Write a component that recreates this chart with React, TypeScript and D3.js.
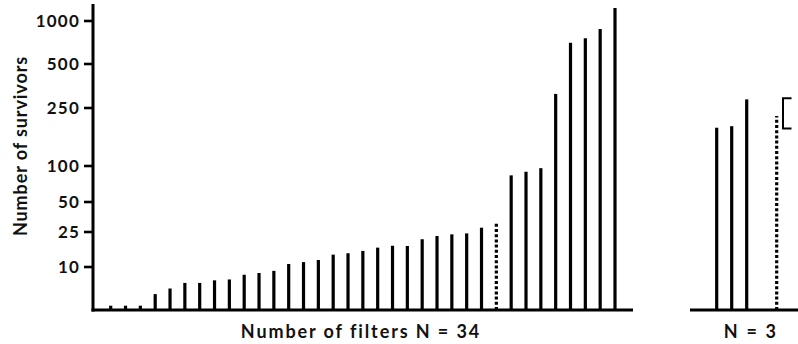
import React from 'react';
import * as d3 from 'd3';

// survivors per filter, N = 34 (the dotted one is drawn apart)
const leftValues = [
  1, 1, 1, 3.7, 5, 6.3, 6.3, 6.9, 7.1, 8.2, 8.6, 9.1, 11.3, 12.1, 13, 15.3, 15.9,
  16.9, 18.3, 19.1, 19, 21.9, 23.3, 24, 24.4, 28.6, 32, 87, 92, 97, 330, 748, 800, 907, 1150,
];
const leftDotted = 26; // index of the dotted bar

// N = 3 panel: slot index, value, dotted?
const rightSlots = [0, 1, 2, 4];
const rightValues = [199, 203, 299, 229];
const rightDotted = [false, false, false, true];
const bracketRange = [197, 305];

const yTicks = [10, 25, 50, 100, 250, 500, 1000];
const yDomain = [0, 10, 25, 50, 100, 250, 500, 1000];
const yPixels = [310, 267, 232, 202, 166, 108, 64, 21];

const font = 'Lato, "Open Sans", sans-serif';

const App: React.FC = () => {
  const width = 798;
  const height = 344;

  // the original axis is not a true log scale, so map each tick piecewise
  const y = d3.scaleLinear().domain(yDomain).range(yPixels);
  const baseY = y(0);

  const xLeft = d3.scalePoint<number>()
    .domain(d3.range(leftValues.length))
    .range([110.7, 615]);

  const xRight = d3.scaleLinear().domain([0, 4]).range([716.7, 776.7]);

  const axisX = 93;

  return (
    <svg width={width} height={height} style={{ position: 'absolute', left: 0, top: 0, background: '#fff' }}>
      {/* y axis */}
      <line x1={axisX} x2={axisX} y1={4} y2={baseY + 1.5} stroke="#000" strokeWidth={3} />
      {yTicks.map(t => (
        <g key={t}>
          <line x1={84} x2={axisX} y1={y(t)} y2={y(t)} stroke="#000" strokeWidth={2.6} />
          <text x={80} y={y(t)} dy="0.36em" textAnchor="end" fontFamily={font} fontSize={17} fontWeight={700} fill="#111" letterSpacing={1.2}>
            {t}
          </text>
        </g>
      ))}
      <text
        transform="translate(21,146) rotate(-90)"
        textAnchor="middle"
        dy="0.35em"
        fontFamily={font}
        fontSize={18}
        fontWeight={700}
        fill="#111"
        letterSpacing={0.9}
      >
        Number of survivors
      </text>

      {/* left x axis */}
      <line x1={axisX - 1.5} x2={633} y1={baseY} y2={baseY} stroke="#000" strokeWidth={3} />
      {leftValues.map((v, i) => (
        <line
          key={i}
          x1={xLeft(i)}
          x2={xLeft(i)}
          y1={baseY}
          y2={y(v)}
          stroke="#000"
          strokeWidth={3.2}
          strokeDasharray={i === leftDotted ? '3,2.2' : undefined}
        />
      ))}
      <text x={361} y={332} dy="0.35em" textAnchor="middle" fontFamily={font} fontSize={18} fontWeight={700} fill="#111" letterSpacing={1.9}>
        Number of filters N = 34
      </text>

      {/* right panel */}
      <line x1={690} x2={798} y1={baseY} y2={baseY} stroke="#000" strokeWidth={3} />
      {rightValues.map((v, i) => (
        <line
          key={i}
          x1={xRight(rightSlots[i])}
          x2={xRight(rightSlots[i])}
          y1={baseY}
          y2={y(v)}
          stroke="#000"
          strokeWidth={3.2}
          strokeDasharray={rightDotted[i] ? '3,2.2' : undefined}
        />
      ))}
      <path
        d={`M791.5,${y(bracketRange[1])}H783V${y(bracketRange[0])}H791.5`}
        fill="none"
        stroke="#000"
        strokeWidth={2}
      />
      <text x={751} y={332} dy="0.35em" textAnchor="middle" fontFamily={font} fontSize={18} fontWeight={700} fill="#111" letterSpacing={2.2}>
        N = 3
      </text>
    </svg>
  );
};

export default App;
